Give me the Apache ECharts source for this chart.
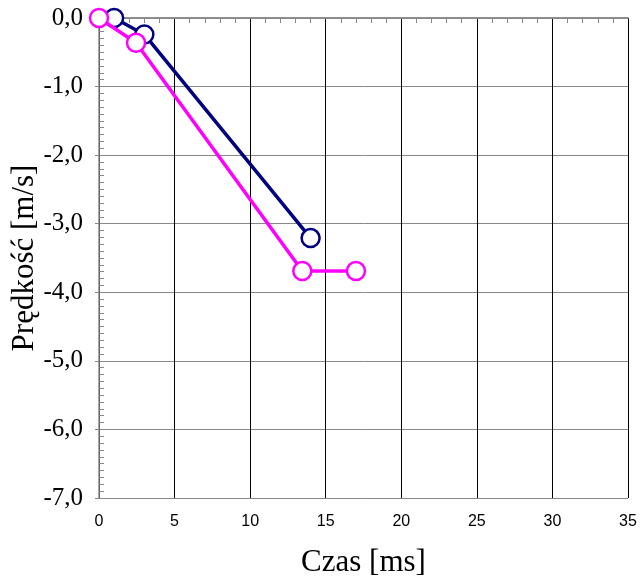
<!DOCTYPE html>
<html><head><meta charset="utf-8">
<script src="https://cdn.jsdelivr.net/npm/echarts@6/dist/echarts.min.js"></script>
<style>html,body{margin:0;padding:0;background:#fff}#c{width:640px;height:582px}</style>
</head><body><div id="c"></div>
<script>
var xTicks = [0, 5, 10, 15, 20, 25, 30, 35];
var yTicks = [0, -1, -2, -3, -4, -5, -6, -7];
var navyX = [1, 3, 14];
var navyY = [0, -0.24, -3.21];
var magentaX = [0, 2.45, 13.45, 17];
var magentaY = [0, -0.36, -3.69, -3.69];

function pairs(xs, ys){ return xs.map(function(x,i){ return [x, ys[i]]; }); }
var chart = echarts.init(document.getElementById('c'));
var serif = 'Liberation Serif';
var sans = 'Liberation Sans';
var yMin = yTicks[yTicks.length-1], yMax = yTicks[0];
var xMin = xTicks[0], xMax = xTicks[xTicks.length-1];
chart.setOption({
  animation: false,
  backgroundColor: '#fff',
  textStyle: {fontFamily: serif},
  grid: {left: 99, right: 12, top: 18, bottom: 84, containLabel: false, outerBoundsMode: 'none'},
  xAxis: [{
    type: 'value', min: xMin, max: xMax, interval: 5,
    position: 'bottom',
    name: 'Czas [ms]', nameLocation: 'middle', nameGap: 49, nameMoveOverlap: false,
    nameTextStyle: {fontFamily: serif, fontSize: 31, color: '#000'},
    axisLine: {show: true, lineStyle: {color: '#888', width: 1.5}},
    axisTick: {show: false},
    axisLabel: {fontFamily: sans, fontSize: 16, color: '#000', margin: 16},
    splitLine: {show: true, lineStyle: {color: '#000', width: 1}}
  }, {
    type: 'value', min: xMin, max: xMax, interval: 5, position: 'top',
    axisLine: {show: true, lineStyle: {color: '#888', width: 1.5}},
    axisTick: {show: false, inside: true},
    minorTick: {show: true, splitNumber: 5, length: 5, lineStyle: {color: '#888'}},
    axisLabel: {show: false},
    splitLine: {show: false}
  }],
  yAxis: [{
    type: 'value', min: yMin, max: yMax, interval: 1,
    name: 'Prędkość [m/s]', nameLocation: 'middle', nameGap: 59, nameMoveOverlap: false,
    nameTextStyle: {fontFamily: serif, fontSize: 31, color: '#000'},
    axisLine: {show: true, lineStyle: {color: '#888', width: 1.5}},
    axisTick: {show: true, inside: false, length: 4, lineStyle: {color: '#888'}},
    axisLabel: {fontFamily: serif, fontSize: 25, color: '#000', margin: 16,
      formatter: function(v){ var s = Math.abs(v).toFixed(1).replace('.', ','); return (v < 0 ? '-' : '') + s; }},
    splitLine: {show: true, lineStyle: {color: '#888', width: 1}}
  }, {
    type: 'value', min: yMin, max: yMax, interval: 1, position: 'left',
    axisLine: {show: false},
    axisTick: {show: false, inside: true},
    minorTick: {show: true, splitNumber: 10, length: 5, lineStyle: {color: '#888'}},
    axisLabel: {show: false},
    splitLine: {show: false}
  }],
  series: [{
    type: 'line', data: pairs(navyX, navyY),
    symbol: 'circle', symbolSize: 18,
    lineStyle: {color: '#000080', width: 3.5},
    itemStyle: {color: '#fff', borderColor: '#000080', borderWidth: 2.5},
    z: 3
  }, {
    type: 'line', data: pairs(magentaX, magentaY),
    symbol: 'circle', symbolSize: 18,
    lineStyle: {color: '#ff00ff', width: 3.5},
    itemStyle: {color: '#fff', borderColor: '#ff00ff', borderWidth: 2.5},
    z: 4
  }]
});
</script></body></html>
